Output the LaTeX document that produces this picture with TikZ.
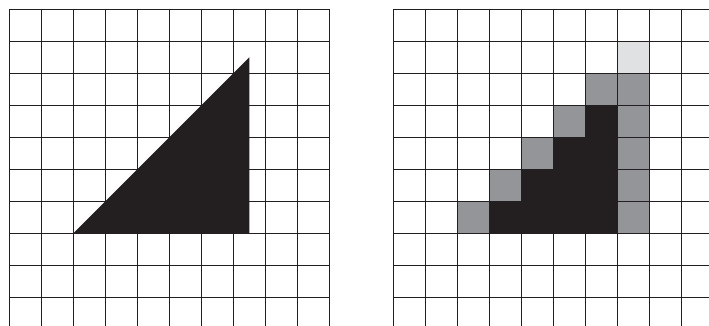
\documentclass[tikz,border=0pt]{standalone}
\definecolor{inkblack}{HTML}{231F20}
\definecolor{midgray}{HTML}{939598}
\definecolor{lightgray2}{HTML}{E0E1E3}
\tikzset{gridline/.style={draw=inkblack,line width=0.8pt},
  graycell/.style={fill=midgray},
  lightcell/.style={fill=lightgray2},
  blackcell/.style={fill=inkblack}}
\begin{document}
\begin{tikzpicture}[x=1pt,y=-1pt]
\useasboundingbox (0,0) rectangle (709,326);
\fill[white] (0,0) rectangle (709,326);
\begin{scope}
\clip (0,0) rectangle (709,326);
% right grid cells (under lines)
\begin{scope}[shift={(393.3,9.3)},x=32pt,y=-32pt]
  \fill[lightcell] (7,1) rectangle (8,2);
  \fill[graycell] (6,2) rectangle (8,3);
  \fill[graycell] (5,3) rectangle (6,4);
  \fill[graycell] (7,3) rectangle (8,7);
  \fill[graycell] (4,4) rectangle (5,5);
  \fill[graycell] (3,5) rectangle (4,6);
  \fill[graycell] (2,6) rectangle (3,7);
\end{scope}
% left grid
\begin{scope}[shift={(9.3,9.3)},x=32pt,y=-32pt]
  \foreach \i in {0,...,10} \draw[gridline] (\i,0) -- (\i,10.5);
  \foreach \j in {0,...,9} \draw[gridline] (0,\j) -- (10,\j);
  \fill[blackcell] (2,7) -- (7.5,7) -- (7.5,1.5) -- cycle;
\end{scope}
% right grid
\begin{scope}[shift={(393.3,9.3)},x=32pt,y=-32pt]
  \foreach \i in {0,...,9} \draw[gridline] (\i,0) -- (\i,10.5);
  \foreach \j in {0,...,9} \draw[gridline] (0,\j) -- (10.5,\j);
  \fill[blackcell] (3,7) -- (7,7) -- (7,3) -- (6,3) -- (6,4) -- (5,4) -- (5,5) -- (4,5) -- (4,6) -- (3,6) -- cycle;
  \draw[gridline] (3,7) -- (7,7) -- (7,3);
\end{scope}
\end{scope}
\end{tikzpicture}
\end{document}
